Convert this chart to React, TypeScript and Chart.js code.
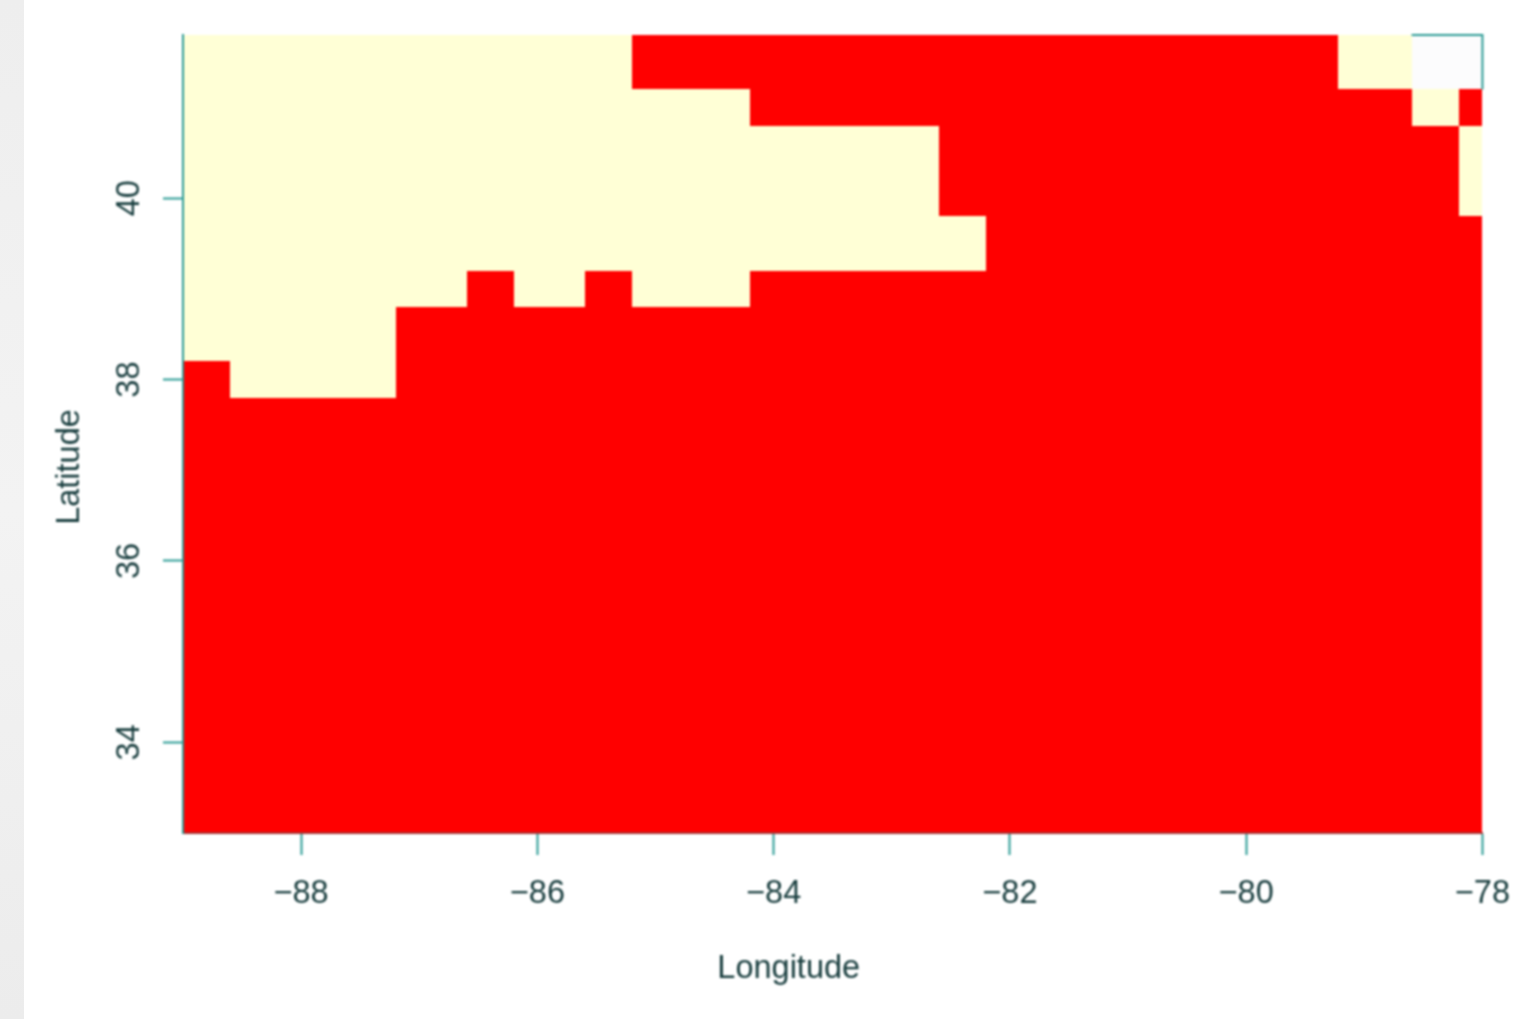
import React, { useEffect, useRef } from "react";
import { Chart, registerables } from "chart.js";

Chart.register(...registerables);

// Longitude west, longitude east, latitude south, latitude north
const domainCells = [[-89, -78, 33, 41.8]];
const creamCells = [
  [-89, -85.2, 41.2, 41.8],
  [-79.22, -78.6, 41.2, 41.8],
  [-89, -84.2, 40.8, 41.2],
  [-78.6, -78.2, 40.8, 41.2],
  [-89, -82.6, 39.8, 40.8],
  [-78.2, -78, 39.8, 40.8],
  [-89, -82.2, 39.2, 39.8],
  [-89, -86.6, 38.8, 39.2],
  [-86.2, -85.6, 38.8, 39.2],
  [-85.2, -84.2, 38.8, 39.2],
  [-89, -87.2, 38.2, 38.8],
  [-88.6, -87.2, 37.8, 38.2],
];
const missingCells = [[-78.6, -78, 41.2, 41.8]];
const lonTicks = [-88, -86, -84, -82, -80, -78];
const latTicks = [34, 36, 38, 40];

const RED = "#ff0000";
const CREAM = "#ffffd6";
const NOCELL = "#fcfcfd";
const TEAL = "#2a9a94";
const TEXT = "#173c3d";
const FONT = { family: "'Liberation Sans', Arial, sans-serif", size: 32.5 };

const toPoints = (cells: number[][]) =>
  cells.map(([w, e, s, n]) => ({ x: (w + e) / 2, y: (s + n) / 2, w, e, s, n }));

const cellPlugin = {
  id: "cells",
  beforeDatasetsDraw(chart: any) {
    const { ctx, scales } = chart;
    chart.data.datasets.forEach((ds: any) => {
      ctx.fillStyle = ds.backgroundColor;
      ds.data.forEach((c: any) => {
        const l = Math.round(scales.x.getPixelForValue(c.w));
        const r = Math.round(scales.x.getPixelForValue(c.e));
        const t = Math.round(scales.y.getPixelForValue(c.n));
        const b = Math.round(scales.y.getPixelForValue(c.s));
        ctx.fillRect(l, t, r - l, b - t);
      });
    });
  },
  afterDatasetsDraw(chart: any) {
    // Box outline, visible only where the missing cell leaves it uncovered
    const { ctx, scales } = chart;
    const [w, e, s, n] = missingCells[0];
    ctx.save();
    ctx.strokeStyle = TEAL;
    ctx.lineWidth = 2;
    ctx.beginPath();
    ctx.moveTo(scales.x.getPixelForValue(w), scales.y.getPixelForValue(n));
    ctx.lineTo(scales.x.getPixelForValue(e), scales.y.getPixelForValue(n));
    ctx.lineTo(scales.x.getPixelForValue(e), scales.y.getPixelForValue(s));
    ctx.stroke();
    ctx.restore();
  },
};

const shiftTitle = (dx: number, dy: number) => (scale: any) => {
  const proto = Object.getPrototypeOf(scale);
  const baseDraw = proto.drawTitle;
  scale.drawTitle = function () {
    this.ctx.save();
    this.ctx.translate(dx, dy);
    baseDraw.call(this);
    this.ctx.restore();
  };
};

export default function App() {
  const ref = useRef<HTMLCanvasElement>(null);
  useEffect(() => {
    const chart = new Chart(ref.current!, {
      type: "scatter",
      data: {
        datasets: [
          { label: "Red", data: toPoints(domainCells), backgroundColor: RED, pointRadius: 0 },
          { label: "Cream", data: toPoints(creamCells), backgroundColor: CREAM, pointRadius: 0 },
          { label: "Missing", data: toPoints(missingCells), backgroundColor: NOCELL, pointRadius: 0 },
        ],
      } as any,
      options: {
        animation: false,
        responsive: false,
        layout: { padding: { left: 0, right: 47, top: 35, bottom: 30 } },
        plugins: { legend: { display: false }, tooltip: { enabled: false } },
        scales: {
          x: {
            type: "linear",
            min: -89,
            max: -78,
            afterBuildTicks: (axis: any) => {
              axis.ticks = lonTicks.map((value) => ({ value }));
            },
            afterFit: (axis: any) => {
              axis.height = 156;
            },
            afterUpdate: shiftTitle(-44, 0),
            border: { display: true, color: "#a83232", width: 2, z: 1 },
            grid: { drawOnChartArea: false, tickLength: 22, tickColor: TEAL, tickWidth: 2 },
            ticks: {
              autoSkip: false,
              maxRotation: 0,
              minRotation: 0,
              padding: 20,
              color: TEXT,
              font: FONT,
              callback: (v: any) => `\u2212${Math.abs(v)}`,
            },
            title: { display: true, text: "Longitude", color: TEXT, font: FONT, padding: 0 },
          },
          y: {
            type: "linear",
            min: 33,
            max: 41.8,
            afterBuildTicks: (axis: any) => {
              axis.ticks = latTicks.map((value) => ({ value }));
            },
            afterFit: (axis: any) => {
              axis.width = 183;
            },
            afterUpdate: shiftTitle(51, 33),
            border: { display: true, color: TEAL, width: 2, z: 1 },
            grid: { drawOnChartArea: false, tickLength: 20, tickColor: TEAL, tickWidth: 2 },
            ticks: {
              autoSkip: false,
              maxRotation: 90,
              minRotation: 90,
              crossAlign: "center",
              padding: 15,
              color: TEXT,
              font: FONT,
              callback: (v: any) => `${v}`,
            },
            title: { display: true, text: "Latitude", color: TEXT, font: FONT, padding: 0 },
          },
        },
      },
      plugins: [cellPlugin],
    } as any);
    return () => chart.destroy();
  }, []);
  return (
    <div style={{ position: "fixed", inset: 0, background: "#ffffff", overflow: "hidden" }}>
      <div
        style={{
          position: "absolute",
          left: 0,
          top: 0,
          width: 24,
          height: 1019,
          background: "linear-gradient(#eeeeee, #f3f3f3 50%, #ececec)",
        }}
      />
      <canvas
        ref={ref}
        width={1530}
        height={1019}
        style={{ position: "absolute", left: 0, top: 0, width: 1530, height: 1019, filter: "blur(0.9px)" }}
      />
    </div>
  );
}
